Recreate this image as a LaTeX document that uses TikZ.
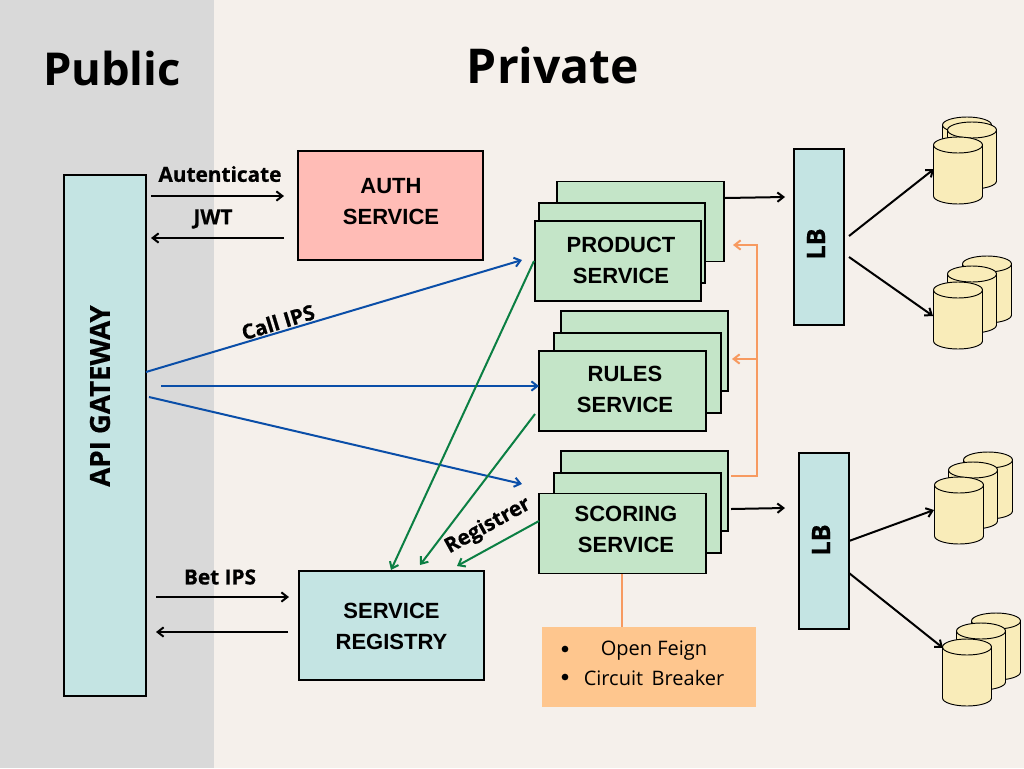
\documentclass[tikz,border=0pt]{standalone}
\usepackage{fontspec}
\setmainfont{Open Sans}
\newfontfamily\boxfont{Liberation Sans}
\newfontfamily\heavyfont[BoldFeatures={FakeBold=0.6}]{Open Sans}
\usetikzlibrary{arrows.meta}

\definecolor{publicbg}{HTML}{D9D9D9}
\definecolor{privatebg}{HTML}{F5F0EB}
\definecolor{tealfill}{HTML}{C4E4E3}
\definecolor{pinkfill}{HTML}{FFBCB6}
\definecolor{greenfill}{HTML}{C4E5C8}
\definecolor{orangefill}{HTML}{FEC68E}
\definecolor{dbfill}{HTML}{F9ECB9}
\definecolor{orangeline}{HTML}{F79A60}
\definecolor{blueline}{HTML}{0A4EA8}
\definecolor{greenline}{HTML}{0B7F43}

\tikzset{
    >={Straight Barb[length=4.5pt,width=7pt]},
    box/.style={draw,line width=1.4pt,inner sep=0pt},
    boxtext/.style={align=center,inner sep=0pt,
        font=\boxfont\bfseries\fontsize{16.5}{23.25}\selectfont},
    svc/.style={box,fill=greenfill,minimum width=125pt,minimum height=60pt},
    teal/.style={box,fill=tealfill},
    uptext/.style={rotate=90,inner sep=0pt,font=\heavyfont\bfseries\fontsize{20.7}{22}\selectfont},
    lbl/.style={inner sep=0pt,font=\heavyfont\bfseries\fontsize{15.6}{18}\selectfont},
    note/.style={inner sep=0pt,font=\fontsize{15}{18}\selectfont},
    dot/.style={circle,fill,inner sep=0pt,minimum size=5pt},
    flow/.style={->,line width=1.5pt},
    callflow/.style={flow,blueline},
    regflow/.style={flow,greenline},
    feignflow/.style={flow,orangeline},
    db/.pic={
        \draw[fill=dbfill,line width=0.7pt]
            (-24.5,0) -- (-24.5,51) arc[start angle=180,end angle=360,x radius=24.5,y radius=-8]
            -- (24.5,0) arc[start angle=0,end angle=180,x radius=24.5,y radius=-8] -- cycle;
        \draw[line width=0.7pt]
            (-24.5,0) arc[start angle=180,end angle=360,x radius=24.5,y radius=-8];
    }
}

\begin{document}
\begin{tikzpicture}[x=0.75pt,y=-0.75pt]

    \useasboundingbox (0, 0) rectangle (1024, 768);
    \fill[privatebg] (0, 0) rectangle (1024, 768);
    \fill[publicbg] (0, 0) rectangle (214, 768);

    \node[font=\bfseries\fontsize{34}{40}\selectfont] (public) at (112, 68) {Public};
    \node[font=\bfseries\fontsize{36}{40}\selectfont] (private) at (553, 65) {Private};

    \node[teal,minimum width=61.5pt,minimum height=390.75pt] (gateway) at (105, 435.5) {};
    \node[uptext] (gatewaytext) at (100, 396) {API GATEWAY};
    \node[box,fill=pinkfill,minimum width=139pt,minimum height=82pt] (auth) at (390.5, 205.5) {};
    \node[boxtext] (authtext) at (391, 202) {AUTH\\SERVICE};
    \node[teal,minimum width=139pt,minimum height=82pt] (registry) at (391.5, 625.5) {};
    \node[boxtext] (registrytext) at (391.5, 626) {SERVICE\\REGISTRY};

    \node[svc] (productc) at (640.5, 221.5) {};
    \node[svc] (productb) at (622, 243) {};
    \node[svc] (producta) at (618, 261) {};
    \node[boxtext] (producttext) at (621, 260.5) {PRODUCT\\SERVICE};

    \node[svc] (rulesc) at (644.5, 351) {};
    \node[svc] (rulesb) at (637.5, 373) {};
    \node[svc] (rulesa) at (622.5, 391) {};
    \node[boxtext] (rulestext) at (625, 389.5) {RULES\\SERVICE};

    \node[svc] (scoringc) at (644.5, 491) {};
    \node[svc] (scoringb) at (637.5, 513) {};
    \node[svc] (scoringa) at (622.5, 533.5) {};
    \node[boxtext] (scoringtext) at (626, 529.5) {SCORING\\SERVICE};

    \node[teal,minimum width=37.5pt,minimum height=132pt] (lbtop) at (819, 237) {};
    \node[uptext,font=\heavyfont\bfseries\fontsize{19}{22}\selectfont] (lbtoptext) at (816, 244) {LB};
    \node[teal,minimum width=37.5pt,minimum height=132pt] (lbbottom) at (824, 541) {};
    \node[uptext,font=\heavyfont\bfseries\fontsize{19}{22}\selectfont] (lbbottomtext) at (821, 540) {LB};

    \node[fill=orangefill,minimum width=160.5pt,minimum height=60pt,inner sep=0pt] (feign) at (649, 667) {};
    \node[note] (feignone) at (654, 651) {Open Feign};
    \node[note] (feigntwo) at (654, 678) {Circuit\, Breaker};
    \node[dot] (bulletone) at (565, 649) {};
    \node[dot] (bullettwo) at (565, 677) {};

    \foreach \x/\y in {967/125, 972/130, 958/145, 987/264, 972/274, 958/290,
                       988/460, 973/470, 959/485, 996/621, 981/631, 967/647}
        \pic at (\x, \y) {db};

    \foreach \n/\x/\y in {authsend/151/196, authend/284/196, jwtsend/284/238, jwtend/151/238,
                          betsend/156/597, betend/289/597, retsend/288/632, retend/156/632,
                          prodout/725/198, prodlb/785/197, scoreout/731/509, scorelb/785/508,
                          lbaa/849/236, dbaa/934/169, lbab/849/257, dbab/933/316,
                          lbba/849/541, dbba/934/510, lbbb/849/573, dbbb/943/648,
                          callaa/146/372, callab/522/260, callba/161/386, callbb/539/386,
                          callca/149/397, callcb/522/484,
                          regaa/534/261, regab/391/570, regba/535/414, regbb/420/565,
                          regca/539/521, regcb/457/566,
                          feignstart/731/476, feigncorner/757/476, feigntop/757/245,
                          feignprod/733/245, feignmid/757/359, feignrules/732/359,
                          drop/622/574, dropend/622/627}
        \coordinate (\n) at (\x, \y);

    \foreach \a/\b in {authsend/authend, jwtsend/jwtend, betsend/betend, retsend/retend,
                       prodout/prodlb, scoreout/scorelb,
                       lbaa/dbaa, lbab/dbab, lbba/dbba, lbbb/dbbb}
        \draw[flow] (\a) -- (\b);

    \foreach \a/\b in {callaa/callab, callba/callbb, callca/callcb}
        \draw[callflow] (\a) -- (\b);

    \foreach \a/\b in {regaa/regab, regba/regbb, regca/regcb}
        \draw[regflow] (\a) -- (\b);

    \draw[feignflow] (feignstart) -- (feigncorner) -- (feigntop) -- (feignprod);
    \draw[feignflow] (feignmid) -- (feignrules);
    \draw[orangeline,line width=1.5pt] (drop) -- (dropend);

    \node[lbl] (autenticate) at (220, 174) {Autenticate};
    \node[lbl] (jwt) at (213, 219) {JWT};
    \node[lbl] (bet) at (220, 577) {Bet IPS};
    \node[lbl,rotate=17] (call) at (278, 322) {Call IPS};
    \node[lbl,rotate=29] (registrer) at (488, 526) {Registrer};

\end{tikzpicture}
\end{document}
